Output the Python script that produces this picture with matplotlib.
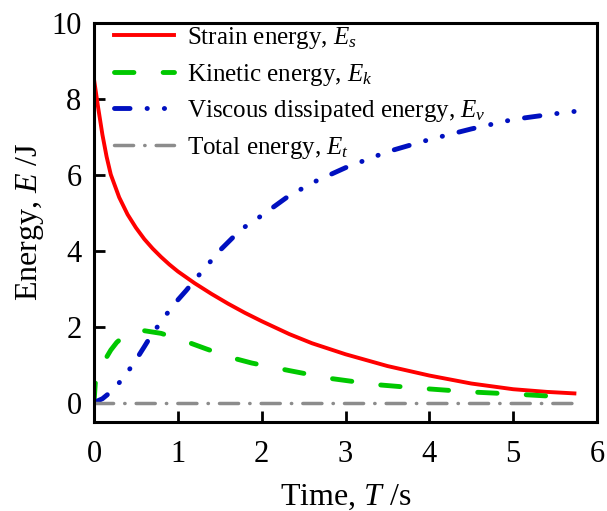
import matplotlib
matplotlib.use('Agg')
import matplotlib.pyplot as plt

plt.rcParams['font.family'] = ['Liberation Serif', 'DejaVu Serif']
plt.rcParams['mathtext.fontset'] = 'custom'
plt.rcParams['mathtext.rm'] = 'Liberation Serif'
plt.rcParams['mathtext.it'] = 'Liberation Serif:italic'

# ── data ───────────────────────────────────────────────────
t_strain = [0, 0.05, 0.1, 0.15, 0.2, 0.3, 0.4, 0.5, 0.6, 0.7, 0.8, 0.9, 1.0,
            1.2, 1.4, 1.6, 1.8, 2.0, 2.33, 2.6, 3.0, 3.5, 4.0, 4.5, 5.0, 5.4, 5.73]
strain = [8.5, 7.75, 7.05, 6.47, 6.0, 5.4, 4.95, 4.6, 4.3, 4.05, 3.83, 3.63, 3.45,
          3.14, 2.86, 2.6, 2.36, 2.14, 1.8, 1.56, 1.27, 0.96, 0.71, 0.5, 0.35, 0.28, 0.24]

t_kin = [0, 0.015, 0.06, 0.13, 0.2, 0.27, 0.35, 0.45, 0.57, 0.8, 1.08, 1.34,
         1.64, 1.88, 2.33, 2.8, 3.37, 3.92, 4.48, 5.03, 5.5, 5.73]
kinetic = [0, 0.5, 0.8, 1.12, 1.38, 1.58, 1.74, 1.86, 1.9, 1.82, 1.62, 1.41,
           1.18, 1.04, 0.84, 0.64, 0.47, 0.37, 0.28, 0.22, 0.16, 0.13]

t_visc = [0, 0.1, 0.2, 0.3, 0.4, 0.5, 0.6, 0.7, 0.8, 0.9, 1.0, 1.1, 1.2, 1.3,
          1.5, 1.75, 2.0, 2.3, 2.6, 3.0, 3.5, 4.0, 4.5, 5.0, 5.5, 5.73]
viscous = [0, 0.1, 0.28, 0.52, 0.8, 1.12, 1.47, 1.83, 2.12, 2.43, 2.7, 2.95, 3.22, 3.48,
           4.0, 4.55, 4.92, 5.4, 5.78, 6.18, 6.6, 6.92, 7.2, 7.45, 7.6, 7.66]

t_total = [0, 5.73]
total = [0, 0]

labels = ['Strain energy, $E_s$', 'Kinetic energy, $E_k$',
          'Viscous dissipated energy, $E_v$', 'Total energy, $E_t$']

fig = plt.figure(figsize=(6.07, 5.11), dpi=100)
ax = fig.add_axes([0.1549, 0.1751, 0.8287, 0.7808])

ax.plot(t_strain, strain, color='#ff0000', lw=2.8, label=labels[0])
ax.plot(t_kin, kinetic, color='#00c800', lw=3.5, dashes=(4.0, 6.0),
        dash_capstyle='round', label=labels[1])
ax.plot(t_visc, viscous, color='#0010c0', lw=3.5, dashes=(3.2, 3.5, 0.05, 3.5, 0.05, 3.5),
        dash_capstyle='round', label=labels[2])
ax.plot(t_total, total, color='#8c8c8c', lw=2.5, dashes=(5.5, 3.2, 0.1, 3.2),
        dash_capstyle='round', label=labels[3])

ax.set_xlim(0, 6)
ax.set_ylim(-0.5, 10)
ax.set_xticks(range(0, 7))
ax.set_yticks(range(0, 11, 2))
for s in ax.spines.values():
    s.set_linewidth(2.2)
ax.tick_params(direction='in', length=8, width=2.0, labelsize=22, pad=9,
               top=False, right=False)
ax.tick_params(axis='x', pad=13)
ax.set_xlabel('Time, $T$ /s', fontsize=23, labelpad=10)
ax.set_ylabel('Energy, $E$ /J', fontsize=23, labelpad=4)

ax.legend(loc='upper left', bbox_to_anchor=(0.015, 1.025), frameon=False, fontsize=18,
          handlelength=2.4, handletextpad=0.5, labelspacing=0.42, borderaxespad=0.1)

plt.savefig('out.png', dpi=100)
plt.close()
